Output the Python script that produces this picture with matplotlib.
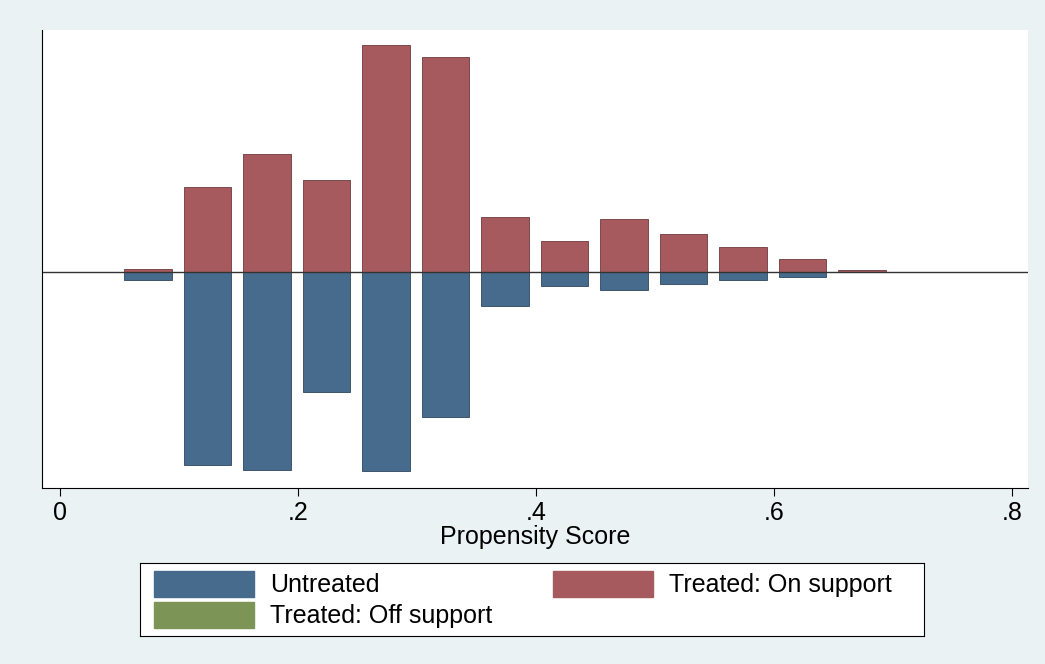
import matplotlib.pyplot as plt
import numpy as np

plt.rcParams['font.family'] = ['Liberation Sans', 'DejaVu Sans']

centers = np.array([0.074 + 0.05 * k for k in range(13)])
treated = [3, 85, 118, 92, 227, 215, 55, 31, 53, 38, 25, 13, 2]
untreated = [8, 193, 198, 120, 199, 145, 34, 14, 18, 12, 8, 5, 0]

bg = '#EAF2F3'
fig = plt.figure(figsize=(10.45, 6.64), dpi=100, facecolor=bg)
ax = fig.add_axes([42/1045, 1-488/664, 986/1045, 458/664])
ax.bar(centers, treated, width=0.04, color='#A65A5E', edgecolor='#6e3a3d', lw=0.6)
ax.bar(centers, -np.array(untreated), width=0.04, color='#476B8C', edgecolor='#2e4660', lw=0.6)
ax.axhline(0, color='#333333', lw=1)
ax.set_xlim(-0.0151, 0.8134)
ax.set_ylim(-216, 242)
ax.set_yticks([])
ax.set_xticks([0, 0.2, 0.4, 0.6, 0.8])
ax.set_xticklabels(['0', '.2', '.4', '.6', '.8'], fontsize=18)
ax.tick_params(axis='x', length=6)
for s in ['top', 'right']:
    ax.spines[s].set_visible(False)
ax.set_xlabel('Propensity Score', fontsize=18, labelpad=0)

lax = fig.add_axes([140/1045, 1-636/664, 784/1045, 73/664])
lax.set_xticks([]); lax.set_yticks([])
lax.set_xlim(0, 784); lax.set_ylim(73, 0)
items = [(14, 8, '#476B8C', 'Untreated'), (413, 8, '#A65A5E', 'Treated: On support'),
         (14, 39, '#7C9557', 'Treated: Off support')]
for x, y, c, t in items:
    lax.add_patch(plt.Rectangle((x, y), 100, 26, color=c))
    lax.text(x + 116, y + 14, t, fontsize=18, va='center')

fig.savefig('out.png', dpi=100, facecolor=bg)
